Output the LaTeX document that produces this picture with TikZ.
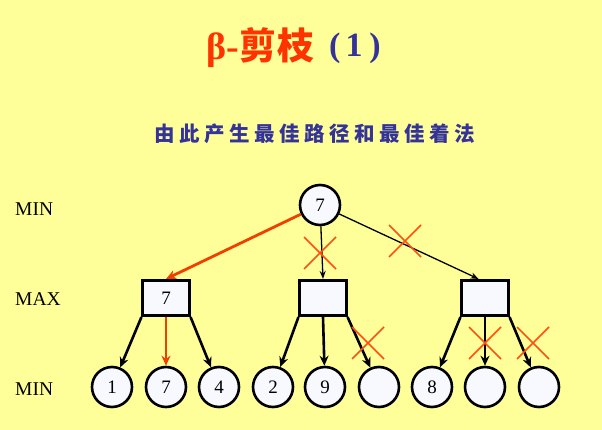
\documentclass[tikz,border=0pt]{standalone}
\usepackage{fontspec}
\setmainfont{Liberation Serif}
\newfontfamily\cjk{Noto Sans CJK SC}
\usetikzlibrary{arrows.meta,calc}
\definecolor{bgyellow}{RGB}{255,255,153}
\definecolor{titlered}{RGB}{255,51,0}
\definecolor{titleblue}{RGB}{51,51,153}
\definecolor{pathred}{RGB}{240,64,0}
\definecolor{crossred}{RGB}{255,80,20}
\definecolor{nodefill}{RGB}{248,248,255}
\tikzset{
  leaf/.style={circle, draw=black, line width=2.6pt, minimum size=40pt, inner sep=0pt, fill=nodefill, font=\fontsize{19}{19}\selectfont},
  maxbox/.style={rectangle, draw=black, line width=2.6pt, minimum width=46.5pt, minimum height=35.5pt, inner sep=0pt, fill=nodefill, font=\fontsize{19}{19}\selectfont},
  lvl/.style={anchor=west, inner sep=0pt, font=\fontsize{19.5}{19.5}\selectfont},
  thinedge/.style={draw=black, line width=1.3pt, -{Stealth[length=8pt,width=6pt]}},
  thickedge/.style={draw=black, line width=2.6pt, -{Stealth[length=10pt,width=9pt]}},
  redthick/.style={draw=pathred, line width=2.8pt, -{Stealth[length=10pt,width=9pt]}},
  cutmark/.style={draw=crossred, line width=1.5pt}
}
\begin{document}
\begin{tikzpicture}[x=1pt,y=-1pt]
\useasboundingbox (0,0) rectangle (602,430);
\fill[bgyellow] (0,0) rectangle (602,430);

% title
\node[anchor=west, inner sep=0pt] (title) at (206,48)
  {\color{titlered}\fontsize{38}{38}\selectfont\bfseries β-\hspace{1pt}{\cjk\bfseries\fontsize{37}{37}\selectfont 剪\hspace{1pt}枝}};
\node[anchor=west, inner sep=0pt] (titlenum) at (329,48)
  {\color{titleblue}\fontsize{34}{34}\selectfont\bfseries (\hspace{5pt}1\hspace{7pt})};

% subtitle
\node[inner sep=0pt] (subtitle) at (315,133.5)
  {\color{titleblue}\cjk\bfseries\fontsize{20.5}{20.5}\selectfont
   由\hspace{4.5pt}此\hspace{4.5pt}产\hspace{4.5pt}生\hspace{4.5pt}最\hspace{4.5pt}佳\hspace{4.5pt}路\hspace{4.5pt}径\hspace{4.5pt}和\hspace{4.5pt}最\hspace{4.5pt}佳\hspace{4.5pt}着\hspace{4.5pt}法};

% level labels
\node[lvl] (lmin1) at (15,209) {MIN};
\node[lvl] (lmax) at (15,299.5) {MAX};
\node[lvl] (lmin2) at (15,389) {MIN};

% nodes
\node[leaf] (root) at (320,205) {7};
\node[maxbox] (b1) at (166,298) {7};
\node[maxbox] (b2) at (323,298) {};
\node[maxbox] (b3) at (485,298) {};

\node[leaf] (l1) at (112,387) {1};
\node[leaf] (l2) at (166,387) {7};
\node[leaf] (l3) at (219,387) {4};
\node[leaf] (l4) at (273,387) {2};
\node[leaf] (l5) at (325,387) {9};
\node[leaf] (l6) at (379,387) {};
\node[leaf] (l7) at (432,387) {8};
\node[leaf] (l8) at (485,387) {};
\node[leaf] (l9) at (539,387) {};

% root edges
\draw[redthick] (root) -- (b1.north);
\draw[thinedge] (root) -- (b2.north);
\draw[thinedge] (root) -- ($(b3.north west)!0.37!(b3.north east)$);

% box edges
\draw[thickedge] (b1.south west) -- (l1);
\draw[redthick] (b1.south) -- (l2);
\draw[thickedge] (b1.south east) -- (l3);
\draw[thickedge] (b2.south west) -- (l4);
\draw[thickedge] (b2.south) -- (l5);
\draw[thickedge] (b2.south east) -- (l6);
\draw[thickedge] (b3.south west) -- (l7);
\draw[thickedge] (b3.south) -- (l8);
\draw[thickedge] (b3.south east) -- (l9);

% cut marks
\foreach \cx/\cy in {320/253, 405/241, 368/343, 485/343, 533/343}{
  \draw[cutmark] (\cx-16,\cy-16) -- (\cx+16,\cy+16);
  \draw[cutmark] (\cx-16,\cy+16) -- (\cx+16,\cy-16);
}
\end{tikzpicture}
\end{document}
